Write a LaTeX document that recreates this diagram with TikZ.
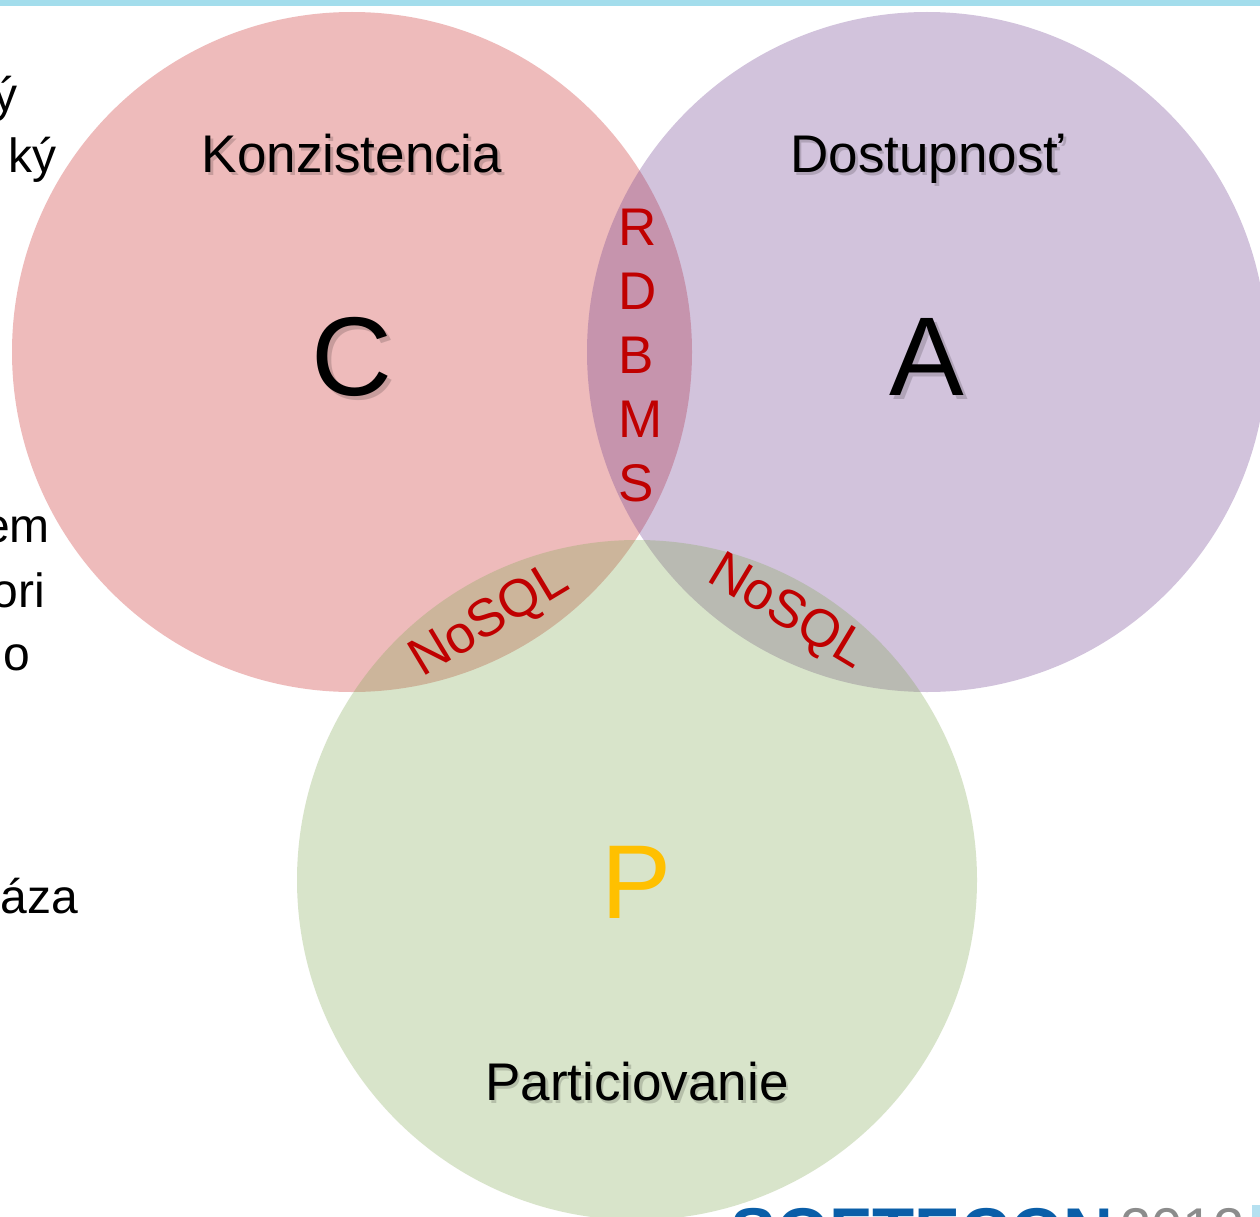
\documentclass[tikz,border=0pt]{standalone}
\usepackage{fontspec}
\setmainfont{Liberation Sans}
\definecolor{cred}{RGB}{202,32,32}
\definecolor{cpur}{RGB}{108,58,142}
\definecolor{cgrn}{RGB}{128,168,82}
\definecolor{dred}{RGB}{192,0,0}
\definecolor{pyel}{RGB}{255,192,0}
\definecolor{topbar}{RGB}{163,221,236}
\definecolor{logoblue}{RGB}{10,94,168}
\definecolor{logogray}{RGB}{140,140,140}
\definecolor{sidebar}{RGB}{181,224,240}
\begin{document}
\begin{tikzpicture}[x=1pt,y=-1pt,
  setc/.style={circle, minimum size=680pt, inner sep=0pt, fill=#1, fill opacity=0.3, draw=none},
  mid/.style={font=\fontsize{53}{64}\selectfont, inner sep=0pt},
  huge/.style={font=\fontsize{112}{130}\selectfont, inner sep=0pt},
  shd/.style={text=black, text opacity=0.16},
  redtxt/.style={mid, text=dred},
  frag/.style={font=\fontsize{48}{58}\selectfont, inner sep=0pt, anchor=base east}]
\useasboundingbox (0,0) rectangle (1260,1217);
\clip (0,0) rectangle (1260,1217);
\fill[white] (0,0) rectangle (1260,1217);
% top bar
\fill[topbar] (0,0) rectangle (1260,6);
% left text fragments
\node[frag] (f1) at (18,112) {ý};
\node[frag] (f2) at (57,173) {ký};
\node[frag] (f3) at (50,542) {em};
\node[frag] (f4) at (45,607) {ori};
\node[frag] (f5) at (30,670) {o};
\node[frag] (f6) at (78,913) {áza};
% circles
\node[setc=cred] (C) at (352,352) {};
\node[setc=cpur] (A) at (927,352) {};
\node[setc=cgrn] (P) at (637,880) {};
% titles with soft shadows
\node[mid, shd, anchor=base] (ks) at (354.5,176) {Konzistencia};
\node[mid, anchor=base] (k) at (352,173) {Konzistencia};
\node[mid, shd, anchor=base] (ds) at (929.5,176) {Dostupnosť};
\node[mid, anchor=base] (d) at (927,173) {Dostupnosť};
\node[mid, shd, anchor=base] (ps) at (639.5,1103) {Particiovanie};
\node[mid, anchor=base] (p) at (637,1100) {Particiovanie};
\node[huge, shd, anchor=base] (cs) at (356,399) {C};
\node[huge, anchor=base] (c) at (352,395) {C};
\node[huge, shd, anchor=base] (as) at (931,399) {A};
\node[huge, anchor=base] (a) at (927,395) {A};
\node[font=\fontsize{105}{120}\selectfont, inner sep=0pt, text=pyel, anchor=base] (pp) at (637,918) {P};
% RDBMS
\node[redtxt, anchor=base west] (r1) at (618,245) {R};
\node[redtxt, anchor=base west] (r2) at (618,309) {D};
\node[redtxt, anchor=base west] (r3) at (618,373) {B};
\node[redtxt, anchor=base west] (r4) at (618,437) {M};
\node[redtxt, anchor=base west] (r5) at (618,501) {S};
% NoSQL
\node[redtxt, anchor=base, rotate=31] (n1) at (497,633) {NoSQL};
\node[redtxt, anchor=base, rotate=-31] (n2) at (780,625) {NoSQL};
% logo
\node[font=\fontsize{69}{80}\selectfont\bfseries, inner sep=0pt, text=logoblue, anchor=base west] (logo) at (730,1256) {SOFTECON};
\node[font=\fontsize{56}{64}\selectfont, inner sep=0pt, text=logogray, anchor=base west] (yr) at (1120,1247) {2012};
\fill[sidebar] (1252,1205) rectangle (1260,1217);
\end{tikzpicture}
\end{document}
